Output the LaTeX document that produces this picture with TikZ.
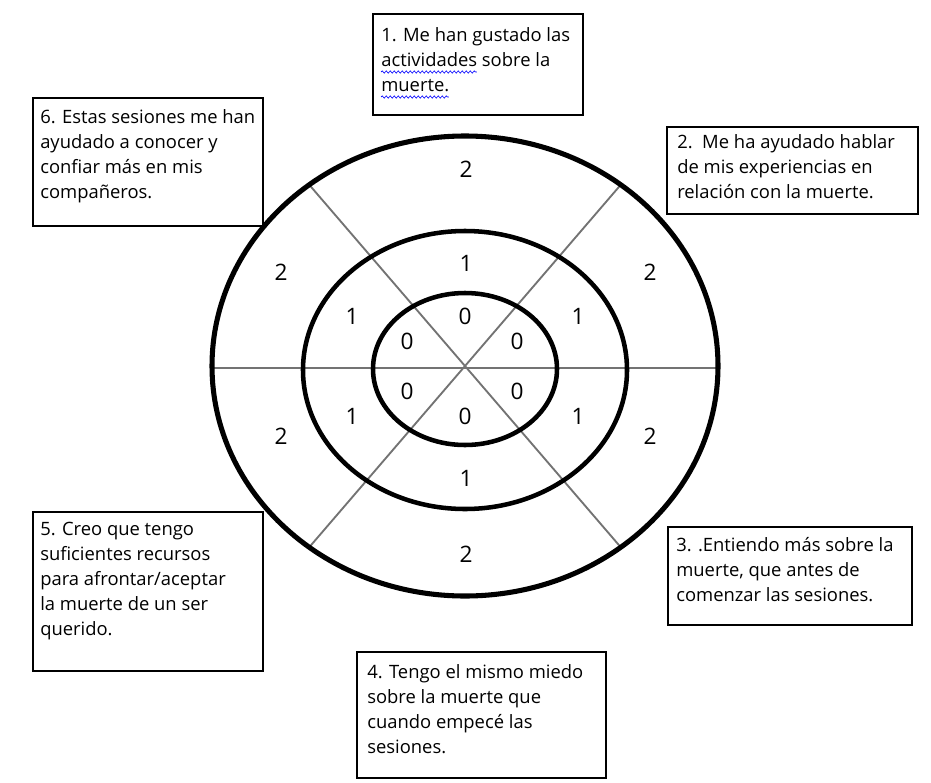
\documentclass[tikz,border=0pt]{standalone}
\usepackage{fontspec}
\setmainfont{Open Sans}
\usepackage{tikz}
\usetikzlibrary{calc,decorations.pathmorphing}

\newcommand{\letrapregunta}{\fontsize{13.8}{18.75}\selectfont}
\newlength{\anchoact}
\newlength{\anchomue}

\begin{document}
\settowidth{\anchoact}{\letrapregunta actividades}
\settowidth{\anchomue}{\letrapregunta muerte.}
\begin{tikzpicture}[
    x=0.75pt, y=-0.75pt,
    caja/.style={draw, fill=white, line width=0.9pt},
    texto/.style={anchor=north west, align=left, inner sep=0pt, font=\letrapregunta},
    onda/.style={blue, line width=0.5pt, decorate, decoration={snake, amplitude=0.8pt, segment length=3pt}},
    anillo/.style={line width=3.4pt},
    radio/.style={line width=1.4pt, black!55},
    cifra/.style={inner sep=0pt, font=\fontsize{17}{17}\selectfont}
]
\useasboundingbox (0,0) rectangle (931,782);

% question boxes
\draw[caja] (373,14) rectangle (583,115);
\node[texto] (p1) at (381,27) {1. Me han gustado las\\actividades sobre la\\muerte.};
\coordinate (w1) at (381,72);
\coordinate (w2) at (381,97);
\draw[onda] (w1) -- ++(\anchoact,0);
\draw[onda] (w2) -- ++(\anchomue,0);
\draw[caja] (667,127) rectangle (918,214);
\node[texto] (p2) at (677,134) {2.\ \ Me ha ayudado hablar\\de mis experiencias en\\relación con la muerte.};
\draw[caja] (668,527) rectangle (912,625);
\node[texto] (p3) at (676,537) {3. .Entiendo más sobre la\\muerte, que antes de\\comenzar las sesiones.};
\draw[caja] (357,652) rectangle (606,778);
\node[texto] (p4) at (367,664) {4. Tengo el mismo miedo\\sobre la muerte que\\cuando empecé las\\sesiones.};
\draw[caja] (33,512) rectangle (263,671);
\node[texto] (p5) at (40,522) {5. Creo que tengo\\suficientes recursos\\para afrontar/aceptar\\la muerte de un ser\\querido.};
\draw[caja] (33,98) rectangle (263,226);
\node[texto] (p6) at (40,109) {6. Estas sesiones me han\\ayudado a conocer y\\confiar más en mis\\compañeros.};

% target
\coordinate (c) at (465,366);
\coordinate (d1) at ($(c)+(128:253 and 230)$);
\coordinate (d2) at ($(c)+(308:253 and 230)$);
\coordinate (d3) at ($(c)+(52:253 and 230)$);
\coordinate (d4) at ($(c)+(232:253 and 230)$);
\coordinate (h1) at ($(c)+(-253,2)$);
\coordinate (h2) at ($(c)+(253,2)$);
\draw[radio] (h1) -- (h2);
\draw[radio] (d1) -- (d2);
\draw[radio] (d3) -- (d4);
\draw[anillo, line width=3.8pt] (c) ellipse [x radius=253, y radius=230];
\draw[anillo] ($(c)+(0,4)$) ellipse [x radius=162, y radius=139];
\draw[anillo] ($(c)+(0,3)$) ellipse [x radius=92, y radius=76];

% scores
\node[cifra] (a1) at (466,169) {2};
\node[cifra] (a2) at (650,272) {2};
\node[cifra] (a3) at (650,436) {2};
\node[cifra] (a4) at (466,554) {2};
\node[cifra] (a5) at (281,436) {2};
\node[cifra] (a6) at (281,272) {2};
\node[cifra] (b1) at (466,263) {1};
\node[cifra] (b2) at (578,316) {1};
\node[cifra] (b3) at (578,416) {1};
\node[cifra] (b4) at (466,478) {1};
\node[cifra] (b5) at (352,416) {1};
\node[cifra] (b6) at (352,316) {1};
\node[cifra] (o1) at (465,316) {0};
\node[cifra] (o2) at (517,341) {0};
\node[cifra] (o3) at (517,391) {0};
\node[cifra] (o4) at (465,416) {0};
\node[cifra] (o5) at (407,391) {0};
\node[cifra] (o6) at (407,341) {0};
\end{tikzpicture}
\end{document}
